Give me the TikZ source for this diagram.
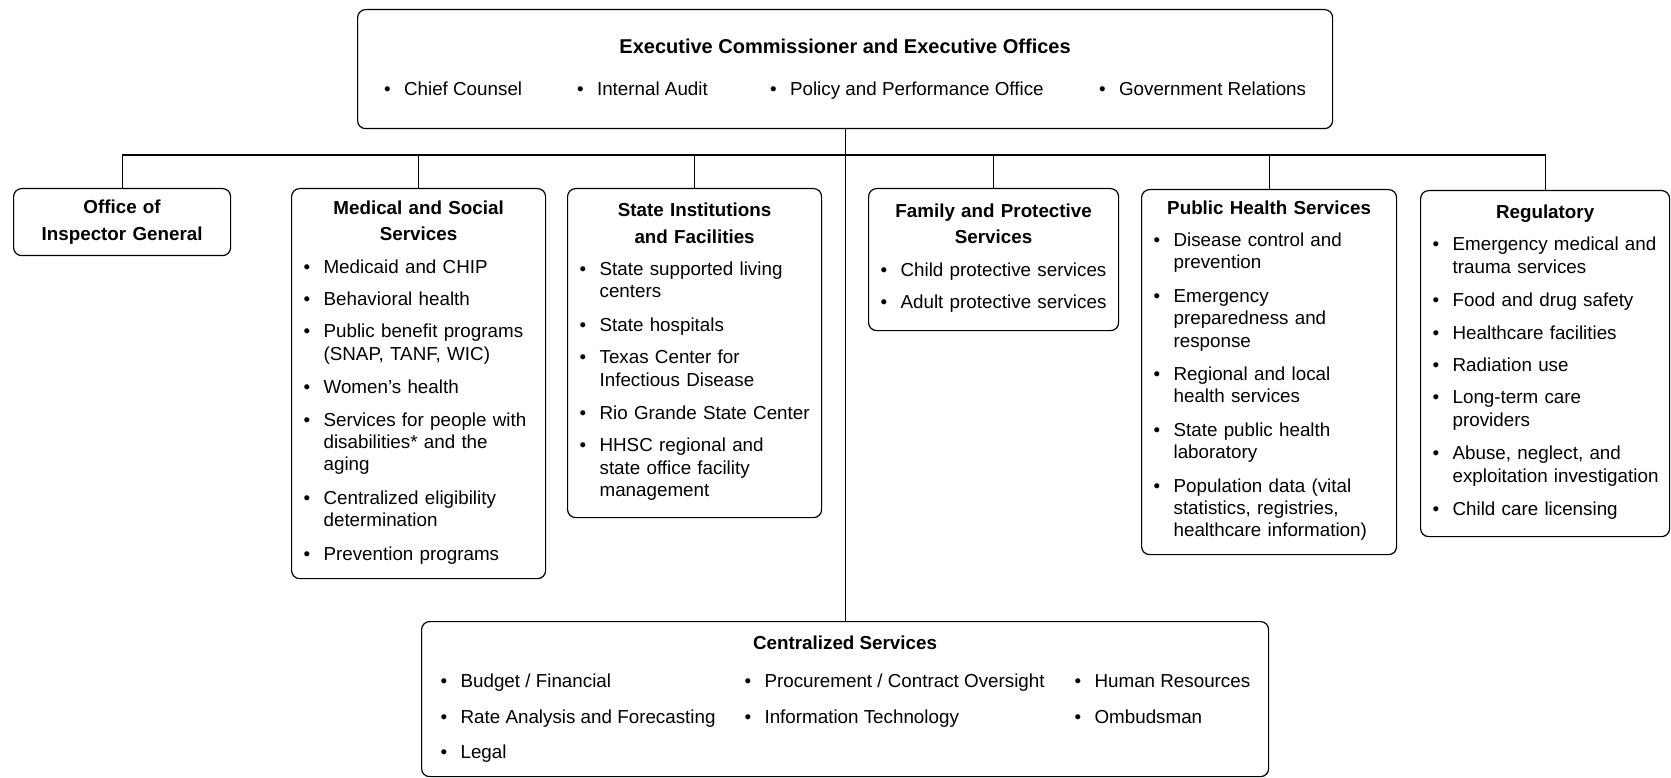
\documentclass[tikz,border=0pt]{standalone}
\usepackage{fontspec}
\setmainfont{Liberation Sans}

\newcommand{\blt}{\makebox[20pt][l]{\textbullet}}
\newcommand{\head}[1]{{\centering\bfseries\fontsize{18.8}{26.6}\selectfont #1\par}}
\newcommand{\itm}[1]{\par\vspace{10pt}\noindent\blt\begin{tabular}[t]{@{}l@{}}#1\end{tabular}\par}

\begin{document}
\begin{tikzpicture}[-,x=1pt,y=-1pt,line width=1.1pt,
    dept/.style={draw,rounded corners=8pt,line width=1.2pt,anchor=north west,inner xsep=12pt,inner ysep=0pt,font=\fontsize{18.8}{22.4}\selectfont}]

            \useasboundingbox (0,0) rectangle (1671,778);

            \node[dept, align=center, minimum width=975pt, minimum height=119pt] (exec) at (357,9)
                {{\fontsize{20}{24}\selectfont\bfseries Executive Commissioner and Executive Offices}\\[19pt]
                 \makebox[193pt][l]{\blt Chief Counsel}\makebox[193pt][l]{\blt Internal Audit}\makebox[329pt][l]{\blt Policy and Performance Office}\blt Government Relations};

            \node[dept, text width=193pt, minimum height=67pt] (oig) at (13,188)
                {\head{Office of\\ Inspector General}};

            \node[dept, text width=230pt, minimum height=390pt] (med) at (291,188)
                {\head{Medical and Social\\ Services}
                 \itm{Medicaid and CHIP}
                 \itm{Behavioral health}
                 \itm{Public benefit programs\\ (SNAP, TANF, WIC)}
                 \itm{Women's health}
                 \itm{Services for people with\\ disabilities* and the\\ aging}
                 \itm{Centralized eligibility\\ determination}
                 \itm{Prevention programs}};

            \node[dept, text width=230pt, minimum height=329pt] (state) at (567,188)
                {\head{State Institutions\\ and Facilities}
                 \itm{State supported living\\ centers}
                 \itm{State hospitals}
                 \itm{Texas Center for\\ Infectious Disease}
                 \itm{Rio Grande State Center}
                 \itm{HHSC regional and\\ state office facility\\ management}};

            \node[dept, text width=226pt, minimum height=142pt] (family) at (868,188)
                {\head{Family and Protective\\ Services}
                 \itm{Child protective services}
                 \itm{Adult protective services}};

            \node[dept, text width=231pt, minimum height=365pt] (phs) at (1141,189)
                {\head{Public Health Services}
                 \itm{Disease control and\\ prevention}
                 \itm{Emergency\\ preparedness and\\ response}
                 \itm{Regional and local\\ health services}
                 \itm{State public health\\ laboratory}
                 \itm{Population data (vital\\ statistics, registries,\\ healthcare information)}};

            \node[dept, text width=225pt, minimum height=346pt] (reg) at (1420,190)
                {\head{Regulatory}
                 \itm{Emergency medical and\\ trauma services}
                 \itm{Food and drug safety}
                 \itm{Healthcare facilities}
                 \itm{Radiation use}
                 \itm{Long-term care\\ providers}
                 \itm{Abuse, neglect, and\\ exploitation investigation}
                 \itm{Child care licensing}};

            \node[dept, align=center, minimum width=847pt, minimum height=155pt] (central) at (421,621)
                {{\bfseries Centralized Services}\\[16pt]
                 \makebox[304pt][l]{\blt Budget / Financial}\makebox[330pt][l]{\blt Procurement / Contract Oversight}\makebox[175pt][l]{\blt Human Resources}\\[13pt]
                 \makebox[304pt][l]{\blt Rate Analysis and Forecasting}\makebox[330pt][l]{\blt Information Technology}\makebox[175pt][l]{\blt Ombudsman}\\[13pt]
                 \makebox[809pt][l]{\blt Legal}};

            \coordinate (bus) at (844.5,155);

            \draw[-] (exec) to (central);
            \draw[-] (oig.north) |- (bus);
            \draw[-] (med.north) |- (bus);
            \draw[-] (state.north) |- (bus);
            \draw[-] (family.north) |- (bus);
            \draw[-] (phs.north) |- (bus);
            \draw[-] (reg.north) |- (bus);

            ;
        \end{tikzpicture}
\end{document}
